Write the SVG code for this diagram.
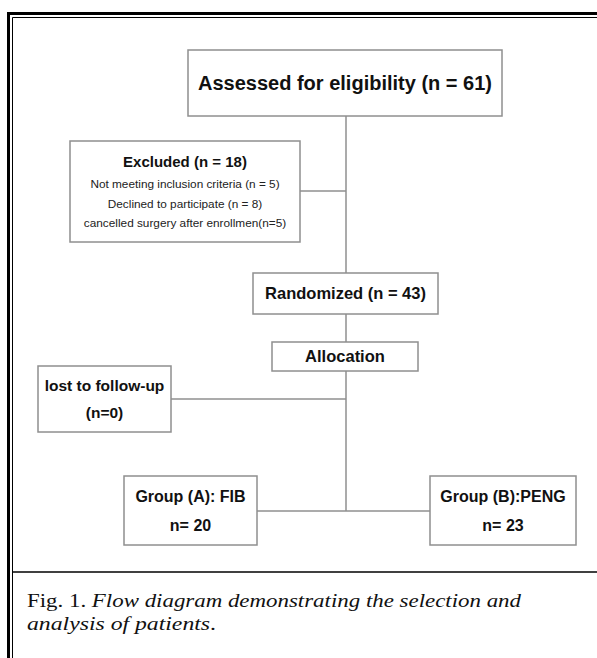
<svg xmlns="http://www.w3.org/2000/svg" width="597" height="658" viewBox="0 0 597 658">
<style>
.box{fill:#fff;stroke:#8f8f8f;stroke-width:1.5}
.ln{stroke:#8f8f8f;stroke-width:1.5;fill:none}
.b{font-family:"Liberation Sans",Arial,sans-serif;font-weight:bold;fill:#111;text-anchor:middle}
.s{font-family:"Liberation Sans",Arial,sans-serif;fill:#222;text-anchor:middle;font-size:11.8px}
.cap{font-family:"Liberation Serif","Times New Roman",serif;font-size:19.5px;fill:#111}
</style>
<rect width="597" height="658" fill="#fff"/>
<g id="frame">
<polyline points="8.5,658 8.5,13.5 597,13.5" fill="none" stroke="#000" stroke-width="3"/>
<polyline points="12.5,658 12.5,17.5 597,17.5" fill="none" stroke="#000" stroke-width="1"/>
<line x1="12.5" y1="572" x2="597" y2="572" stroke="#000" stroke-width="1.5"/>
</g>
<g id="connectors">
<line class="ln" x1="346" y1="116" x2="346" y2="273"/>
<line class="ln" x1="300" y1="191" x2="346" y2="191"/>
<line class="ln" x1="346" y1="314" x2="346" y2="342"/>
<line class="ln" x1="346" y1="371" x2="346" y2="511"/>
<line class="ln" x1="171" y1="399" x2="346" y2="399"/>
<line class="ln" x1="257" y1="511" x2="430" y2="511"/>
</g>
<g id="assessed">
<rect class="box" x="188" y="50" width="314" height="66"/>
<text class="b" x="345" y="90" font-size="20">Assessed for eligibility (n = 61)</text>
</g>
<g id="excluded">
<rect class="box" x="70" y="141" width="230" height="101"/>
<text class="b" x="185" y="167" font-size="15">Excluded (n = 18)</text>
<text class="s" x="185" y="188">Not meeting inclusion criteria (n = 5)</text>
<text class="s" x="185" y="208">Declined to participate (n = 8)</text>
<text class="s" x="185" y="227">cancelled surgery after enrollmen(n=5)</text>
</g>
<g id="randomized">
<rect class="box" x="253" y="273" width="185" height="41"/>
<text class="b" x="345.5" y="299" font-size="16.5">Randomized (n = 43)</text>
</g>
<g id="allocation">
<rect class="box" x="272" y="342" width="146" height="29"/>
<text class="b" x="345" y="362" font-size="16.5">Allocation</text>
</g>
<g id="lost">
<rect class="box" x="38" y="366" width="133" height="66"/>
<text class="b" x="104.5" y="391" font-size="15.5">lost to follow-up</text>
<text class="b" x="104.5" y="418" font-size="15.5">(n=0)</text>
</g>
<g id="groupA">
<rect class="box" x="124" y="476" width="133" height="69"/>
<text class="b" x="190.5" y="502" font-size="16">Group (A): FIB</text>
<text class="b" x="190.5" y="531" font-size="16">n= 20</text>
</g>
<g id="groupB">
<rect class="box" x="430" y="476" width="146" height="69"/>
<text class="b" x="503" y="502" font-size="16">Group (B):PENG</text>
<text class="b" x="503" y="531" font-size="16">n= 23</text>
</g>
<g id="caption">
<text class="cap" x="27" y="607" textLength="494" lengthAdjust="spacingAndGlyphs">Fig. 1. <tspan font-style="italic">Flow diagram demonstrating the selection and</tspan></text>
<text class="cap" x="27" y="630" textLength="189" lengthAdjust="spacingAndGlyphs"><tspan font-style="italic">analysis of patients</tspan>.</text>
</g>
</svg>
